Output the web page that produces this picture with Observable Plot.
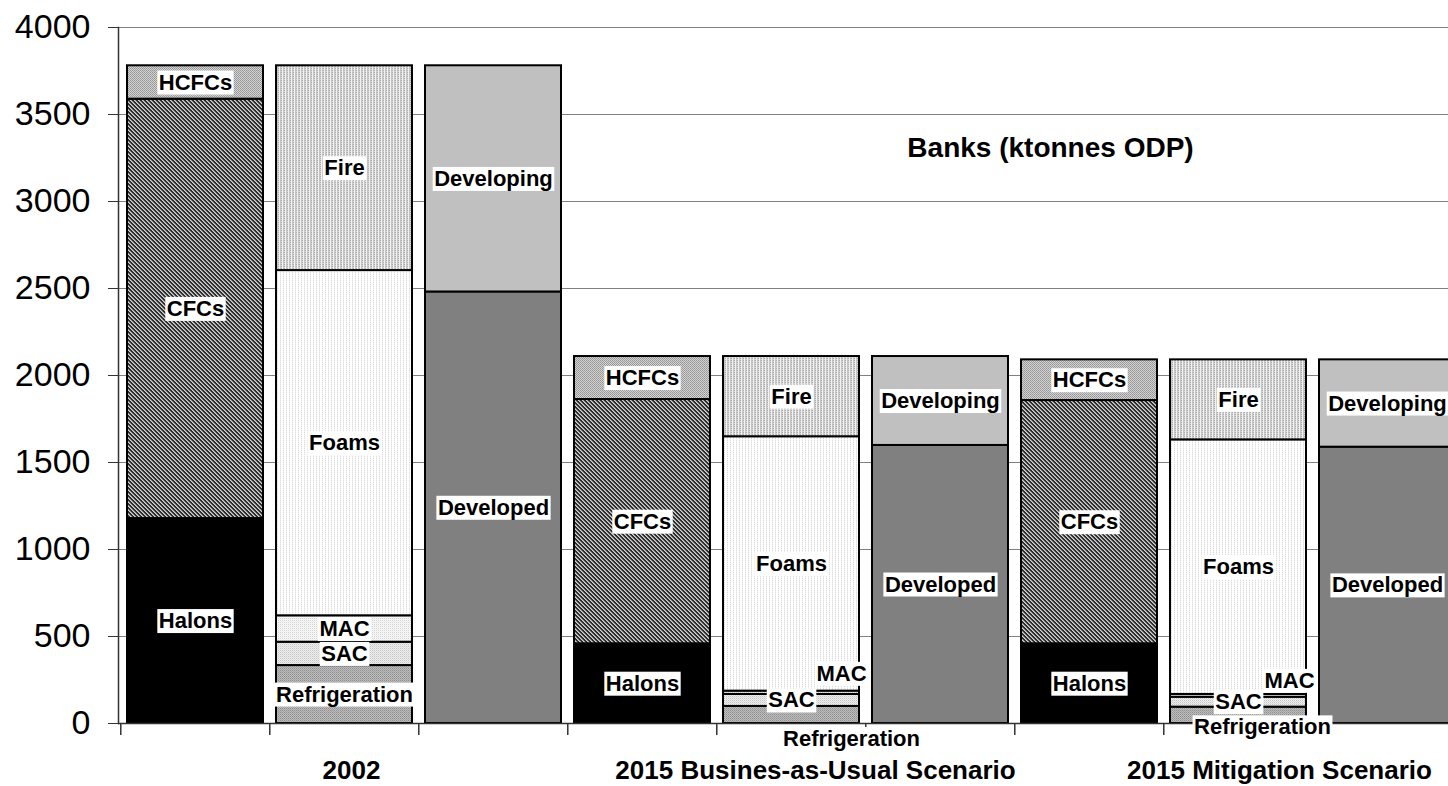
<!DOCTYPE html>
<html><head><meta charset="utf-8">
<script src="https://cdn.jsdelivr.net/npm/d3@7"></script>
<script src="https://cdn.jsdelivr.net/npm/@observablehq/plot@0.6"></script>
<style>
  html, body { margin: 0; padding: 0; background: #fff; }
  #chart { width: 1448px; height: 786px; overflow: hidden; position: relative; }
</style>
</head><body>
<div id="chart"></div>
<script>
// ---------------- DATA ----------------
const scenarios = ["2002", "2015 Busines-as-Usual Scenario", "2015 Mitigation Scenario"];
const breakdowns = ["gas", "sector", "region"];
const gasNames = ["Halons", "CFCs", "HCFCs"];
const gasValues = [[1178, 2410, 192], [458, 1404, 247], [458, 1398, 234]];
const sectorNames = ["Refrigeration", "SAC", "MAC", "Foams", "Fire"];
const sectorValues = [[333, 134, 152, 1984, 1177], [98, 69, 19, 1462, 461], [94, 57, 16, 1463, 460]];
const regionNames = ["Developed", "Developing"];
const regionValues = [[2480, 1300], [1598, 511], [1588, 502]];
const yTicks = [0, 500, 1000, 1500, 2000, 2500, 3000, 3500, 4000];
const chartTitle = "Banks (ktonnes ODP)";

// ---------------- LAYOUT / STYLE ----------------
const W = 1448, H = 786;
const M = {left: 118, right: -15, top: 27, bottom: 63};
const FONT = "'Liberation Sans', Arial, Helvetica, sans-serif";
// pixel nudges for labels that Excel moved off their segments
const labelNudges = [
  {scenario: 1, segment: "MAC", dx: 50, dy: -19},
  {scenario: 1, segment: "Refrigeration", dx: 60, dy: 24},
  {scenario: 2, segment: "MAC", dx: 51, dy: -15},
  {scenario: 2, segment: "Refrigeration", dx: 24, dy: 12}
];
const groupLabelDx = [7, 24, 41];
// pattern tiles (Excel-like bitmap fills)
const patterns = {
  "Halons": {w: 1, h: 1, px: [["#000"]]},
  "CFCs": {w: 4, h: 4, px: [
    ["#2e2e2e", "#2e2e2e", "#d0d0d0", "#9a9a9a"],
    ["#9a9a9a", "#2e2e2e", "#2e2e2e", "#d0d0d0"],
    ["#d0d0d0", "#9a9a9a", "#2e2e2e", "#2e2e2e"],
    ["#2e2e2e", "#d0d0d0", "#9a9a9a", "#2e2e2e"]]},
  "HCFCs": {w: 2, h: 2, px: [["#959595", "#d2d2d2"], ["#d2d2d2", "#a0a0a0"]]},
  "Fire": {w: 3, h: 2, px: [["#f2f2f2", "#c2c2c2", "#aaaaaa"], ["#f2f2f2", "#c8c8c8", "#dadada"]]},
  "Foams": {w: 3, h: 2, px: [["#ffffff", "#dcdcdc", "#ffffff"], ["#ffffff", "#f4f4f4", "#ffffff"]]},
  "MAC": {w: 2, h: 2, px: [["#d2d2d2", "#f8f8f8"], ["#f8f8f8", "#f0f0f0"]]},
  "SAC": {w: 2, h: 2, px: [["#c4c4c4", "#eeeeee"], ["#eeeeee", "#dcdcdc"]]},
  "Refrigeration": {w: 2, h: 2, px: [["#8e8e8e", "#bdbdbd"], ["#bdbdbd", "#a2a2a2"]]},
  "Developed": {w: 1, h: 1, px: [["#808080"]]},
  "Developing": {w: 1, h: 1, px: [["#c0c0c0"]]}
};

// ---------------- BUILD ROWS ----------------
const breakdownData = {gas: [gasNames, gasValues], sector: [sectorNames, sectorValues], region: [regionNames, regionValues]};
const barKeys = [];
const rows = [];
scenarios.forEach((s, si) => {
  breakdowns.forEach(b => {
    const key = s + "|" + b;
    barKeys.push(key);
    const [names, vals] = breakdownData[b];
    let acc = 0;
    names.forEach((n, i) => {
      const v = vals[si][i];
      rows.push({bar: key, scenario: si, segment: n, value: v, y1: acc, y2: acc + v, mid: acc + v / 2});
      acc += v;
    });
  });
});
const segNames = [...gasNames, ...sectorNames, ...regionNames];
const isNudged = r => labelNudges.some(n => n.scenario === r.scenario && n.segment === r.segment && r.bar.endsWith("|sector"));
const step = (W - M.left - M.right) / barKeys.length;
const labelOpts = {x: "bar", y: "mid", text: "segment", fontSize: 22, fontWeight: "bold", fill: "black", className: "seglabel", fontFamily: FONT};

const plot = Plot.plot({
  width: W, height: H,
  marginLeft: M.left, marginRight: M.right, marginTop: M.top, marginBottom: M.bottom,
  style: {fontFamily: FONT, background: "white"},
  x: {domain: barKeys, paddingInner: 0.09, paddingOuter: 0.045, axis: null},
  y: {domain: [0, 4000], axis: null},
  color: {domain: segNames, range: segNames.map(n => `url(#pat-${n})`)},
  marks: [
    Plot.gridY(yTicks, {stroke: "#808080", strokeOpacity: 1, strokeWidth: 1}),
    Plot.axisY(yTicks, {tickSize: 10, tickPadding: 18, fontSize: 34, stroke: "#333", fill: "black", tickFormat: d => String(d), label: null}),
    Plot.barY(rows, {x: "bar", y1: "y1", y2: "y2", fill: "segment", stroke: "black", strokeWidth: 2}),
    Plot.frame({anchor: "left", stroke: "#333", strokeWidth: 1.5}),
    Plot.ruleY([0], {stroke: "#333", strokeWidth: 1.5}),
    Plot.ruleX(barKeys, {x: d => d, y1: 0, y2: 0, insetBottom: -12, dx: -step / 2, stroke: "#333", strokeWidth: 1.5}),
    Plot.text(rows.filter(r => !isNudged(r)), labelOpts),
    ...labelNudges.map(n => Plot.text(rows.filter(r => r.scenario === n.scenario && r.segment === n.segment && r.bar.endsWith("|sector")), {...labelOpts, dx: n.dx, dy: n.dy})),
    ...scenarios.map((s, i) => Plot.text([{bar: s + "|sector", label: s}], {x: "bar", text: "label", frameAnchor: "bottom", dy: 55, dx: groupLabelDx[i], fontSize: 26, fontWeight: "bold", fill: "black", fontFamily: FONT})),
    Plot.text([chartTitle], {frameAnchor: "top-left", dx: 1050 - M.left, dy: 110, textAnchor: "middle", fontSize: 28, fontWeight: "bold", fill: "black", fontFamily: FONT})
  ]
});

document.getElementById("chart").appendChild(plot);

// pattern defs
const NS = "http://www.w3.org/2000/svg";
const defs = document.createElementNS(NS, "defs");
for (const [name, p] of Object.entries(patterns)) {
  const pat = document.createElementNS(NS, "pattern");
  pat.setAttribute("id", "pat-" + name);
  pat.setAttribute("patternUnits", "userSpaceOnUse");
  pat.setAttribute("width", p.w);
  pat.setAttribute("height", p.h);
  p.px.forEach((row, y) => row.forEach((c, x) => {
    const r = document.createElementNS(NS, "rect");
    r.setAttribute("x", x); r.setAttribute("y", y);
    r.setAttribute("width", 1); r.setAttribute("height", 1);
    r.setAttribute("fill", c);
    r.setAttribute("shape-rendering", "crispEdges");
    pat.appendChild(r);
  }));
  defs.appendChild(pat);
}
plot.insertBefore(defs, plot.firstChild);

// white boxes behind segment labels
plot.querySelectorAll("g.seglabel text").forEach(t => {
  const b = t.getBBox();
  const r = document.createElementNS(NS, "rect");
  r.setAttribute("x", b.x - 1.5);
  r.setAttribute("y", b.y + 1);
  r.setAttribute("width", b.width + 3);
  r.setAttribute("height", b.height - 1);
  r.setAttribute("fill", "white");
  const tr = t.getAttribute("transform");
  if (tr) r.setAttribute("transform", tr);
  t.parentNode.insertBefore(r, t);
});
</script>
</body></html>
